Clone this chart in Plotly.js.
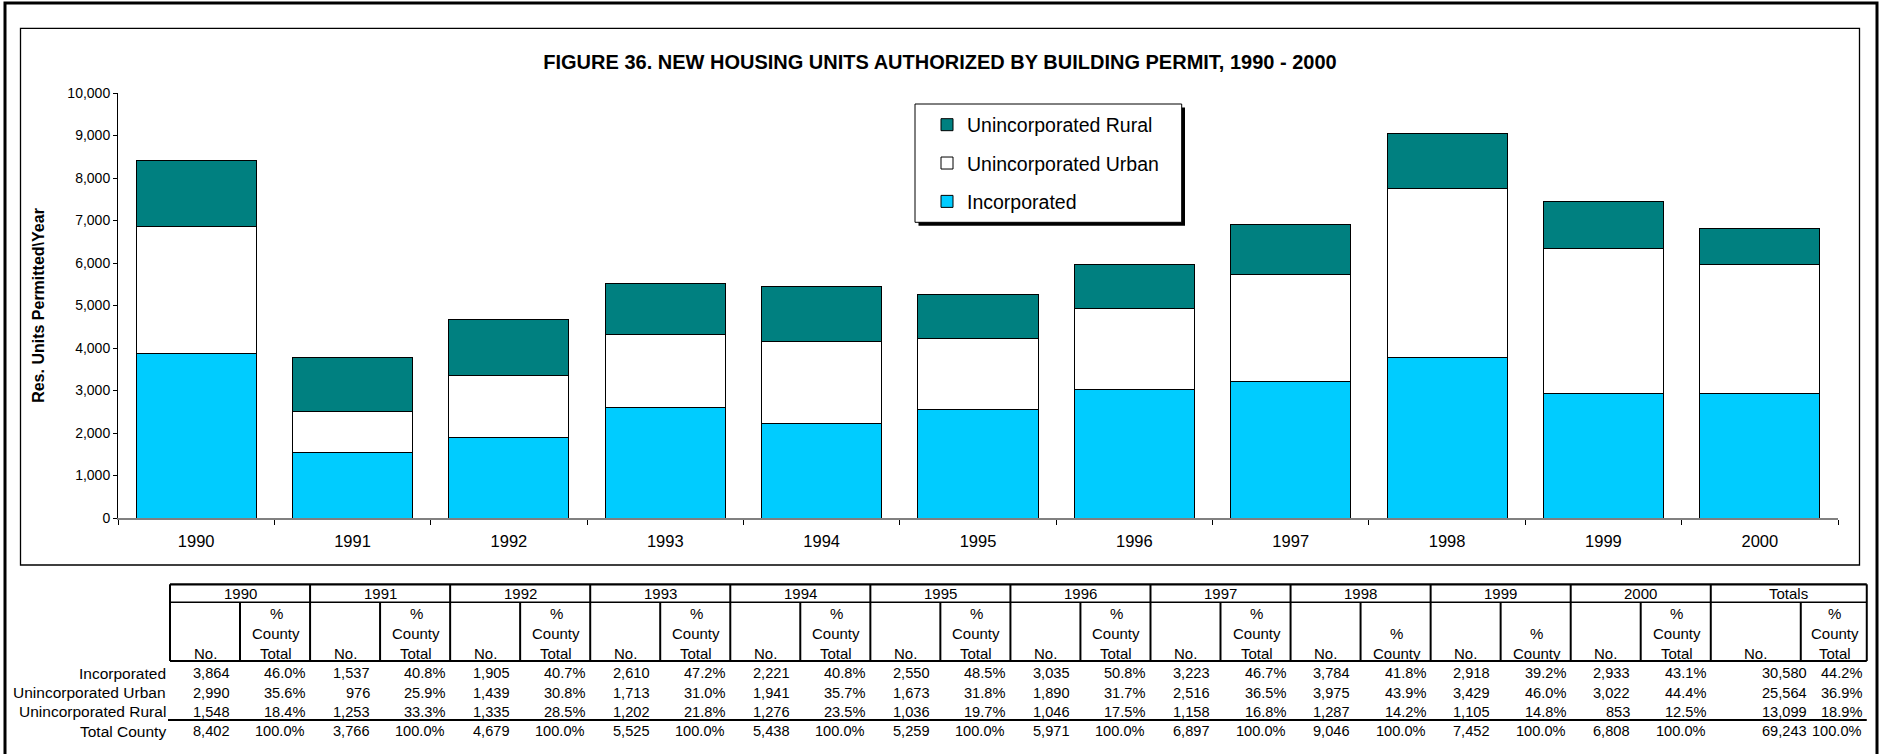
<!DOCTYPE html>
<html>
<head>
<meta charset="utf-8">
<script src="https://cdn.plot.ly/plotly-3.0.1.min.js"></script>
<style>
  html, body { margin: 0; padding: 0; background: #ffffff; }
  #chart { width: 1879px; height: 754px; }
</style>
</head>
<body>
<div id="chart"></div>
<script>
// ---------------- DATA ----------------
const years = ['1990','1991','1992','1993','1994','1995','1996','1997','1998','1999','2000'];
const incorporated = [3864, 1537, 1905, 2610, 2221, 2550, 3035, 3223, 3784, 2918, 2933];
const unincUrban   = [2990,  976, 1439, 1713, 1941, 1673, 1890, 2516, 3975, 3429, 3022];
const unincRural   = [1548, 1253, 1335, 1202, 1276, 1036, 1046, 1158, 1287, 1105,  853];
const totalCounty  = [8402, 3766, 4679, 5525, 5438, 5259, 5971, 6897, 9046, 7452, 6808];
const pctIncorporated = ['46.0%','40.8%','40.7%','47.2%','40.8%','48.5%','50.8%','46.7%','41.8%','39.2%','43.1%'];
const pctUrban        = ['35.6%','25.9%','30.8%','31.0%','35.7%','31.8%','31.7%','36.5%','43.9%','46.0%','44.4%'];
const pctRural        = ['18.4%','33.3%','28.5%','21.8%','23.5%','19.7%','17.5%','16.8%','14.2%','14.8%','12.5%'];
const pctTotal        = ['100.0%','100.0%','100.0%','100.0%','100.0%','100.0%','100.0%','100.0%','100.0%','100.0%','100.0%'];
const totalsNo  = [30580, 25564, 13099, 69243];
const totalsPct = ['44.2%','36.9%','18.9%','100.0%'];
const rowLabels = ['Incorporated','Unincorporated Urban','Unincorporated Rural','Total County'];
const seriesNames = ['Incorporated','Unincorporated Urban','Unincorporated Rural'];
const shortPctHeaderYears = ['1998','1999'];
const chartTitle = 'FIGURE 36. NEW HOUSING UNITS AUTHORIZED BY BUILDING PERMIT, 1990 - 2000';
const yTitle = 'Res. Units Permitted\\Year';

// ---------------- LAYOUT HELPERS ----------------
const W = 1879, H = 754;
const M = {l: 118, r: 41, t: 93, b: 236};
const PW = W - M.l - M.r, PH = H - M.t - M.b;
const px = X => (X - M.l) / PW;
const py = Y => (H - M.b - Y) / PH;
const FONT = 'Liberation Sans, Arial, Helvetica, sans-serif';
const DATA_FS = 14.6, HEAD_FS = 15, LABEL_FS = 15.5;

const shapes = [];
const annotations = [];
function rect(x0, y0, x1, y1, lw, lc, fill) {
  shapes.push({type:'rect', xref:'paper', yref:'paper', x0:px(x0), x1:px(x1), y0:py(y0), y1:py(y1),
    line:{width:lw, color:lc}, fillcolor:fill || 'rgba(0,0,0,0)', layer:'below'});
}
function line(x0, y0, x1, y1, lw) {
  shapes.push({type:'line', xref:'paper', yref:'paper', x0:px(x0), x1:px(x1), y0:py(y0), y1:py(y1),
    line:{width:lw, color:'#000000'}, layer:'above'});
}
function text(t, X, Y, anchor, fs) {
  annotations.push({text:t, xref:'paper', yref:'paper', x:px(X), y:py(Y), xanchor:anchor, yanchor:'middle',
    showarrow:false, font:{family:FONT, size:fs, color:'#000000'}, borderpad:0});
}

// frames
rect(5, 3, 1877, 790, 3, '#000000');
rect(20.5, 28.3, 1859.5, 565, 1.3, '#000000');
// legend box with shadow
rect(918.5, 107.5, 1185, 225.8, 0, '#000000', '#000000');
rect(915, 104, 1181.7, 222.3, 1, '#000000', '#ffffff');

// ---------------- TABLE ----------------
const tL = 170, blockW = 140.07, innerW = 70, totW = 156, totInner = 90;
const tR = tL + blockW * years.length + totW;
const yTop = 584.3, yH1 = 602.3, yH2 = 661, yTot = 720;
const rowY = [673.4, 692.6, 711.9, 731.2];
const hdrY = [593.3, 613.3, 633.3, 653.3];
line(tL, yTop, tR, yTop, 2.2);
line(tL, yH1, tR, yH1, 1.4);
line(tL, yH2, tR, yH2, 2.2);
line(tL - 2, yTot, tR, yTot, 2.2);

const blocks = years.map((y, i) => ({label: y, left: tL + i * blockW, w: blockW, inner: innerW,
  no: [incorporated[i], unincUrban[i], unincRural[i], totalCounty[i]],
  pct: [pctIncorporated[i], pctUrban[i], pctRural[i], pctTotal[i]],
  short: shortPctHeaderYears.includes(y), noRightPad: 9.5}));
blocks.push({label:'Totals', left: tL + years.length * blockW, w: totW, inner: totInner,
  no: totalsNo, pct: totalsPct, short:false, noRightPad: -7});

blocks.forEach(b => {
  const L = b.left, R = b.left + b.w, I = b.left + b.inner;
  line(L, yTop, L, yH2, 2);
  line(I, yH1, I, yH2, 2);
  text(b.label, (L + R) / 2, hdrY[0], 'center', HEAD_FS);
  text('No.', (L + I) / 2, hdrY[3], 'center', HEAD_FS);
  const pc = (I + R) / 2 + 1;
  const hdr = b.short ? ['', '%', 'County'] : ['%', 'County', 'Total'];
  hdr.forEach((h, k) => { if (h) text(h, pc, hdrY[k + 1], 'center', HEAD_FS); });
  b.no.forEach((v, k) => text(v.toLocaleString('en-US'), I - b.noRightPad, rowY[k], 'right', DATA_FS));
  b.pct.forEach((v, k) => text(v, R - 4, rowY[k], 'right', DATA_FS));
});
line(tR, yTop, tR, yH2, 2);
rowLabels.forEach((lab, k) => text(lab, 167, rowY[k], 'right', LABEL_FS));

// ---------------- TRACES ----------------
const colors = ['#00CCFF', '#FFFFFF', '#008080'];
const values = [incorporated, unincUrban, unincRural];
const ranks = [3, 2, 1];
const traces = values.map((v, i) => ({
  type: 'bar', x: years, y: v, name: seriesNames[i], legendgroup: 'g' + i, legendrank: ranks[i],
  marker: {color: colors[i], line: {color: '#000000', width: 1}},
  hoverinfo: 'x+y+name'
}));

const legendSymbolCenter = 947, legendTopPx = 105.5;

const layout = {
  width: W, height: H,
  margin: M,
  paper_bgcolor: '#ffffff', plot_bgcolor: '#ffffff',
  font: {family: FONT, color: '#000000'},
  barmode: 'stack', bargap: 0.232,
  title: {text: chartTitle, font: {family: FONT, size: 20, weight: 'bold', color: '#000000'},
    xref: 'container', yref: 'container', x: 940 / W, xanchor: 'center', y: 1 - 61.7 / H, yanchor: 'middle'},
  xaxis: {type: 'category', showline: true, linecolor: '#808080', linewidth: 1.5,
    ticks: 'outside', ticklen: 5, tickwidth: 1, tickcolor: '#000000', tickson: 'boundaries',
    tickfont: {family: FONT, size: 16.5, color: '#000000'}, ticklabelstandoff: 8,
    showgrid: false, zeroline: false, fixedrange: true},
  xaxis2: {overlaying: 'x', anchor: 'y', range: [0, 11], tickvals: [1,2,3,4,5,6,7,8,9,10,11],
    ticks: 'inside', ticklen: 5, tickwidth: 1, tickcolor: '#000000', showticklabels: false,
    showline: false, showgrid: false, zeroline: false, fixedrange: true},
  yaxis: {range: [0, 10000], dtick: 1000, tickformat: ',d', showline: true, linecolor: '#000000', linewidth: 1,
    ticks: 'outside', ticklen: 4, tickwidth: 1, tickcolor: '#000000',
    tickfont: {family: FONT, size: 14, color: '#000000'},
    title: {text: yTitle, font: {family: FONT, size: 16, weight: 'bold', color: '#000000'}, standoff: 18},
    showgrid: false, zeroline: false, fixedrange: true},
  yaxis2: {overlaying: 'y', anchor: 'x', range: [0, 10000], dtick: 1000, ticks: 'inside', ticklen: 4,
    tickwidth: 1, tickcolor: '#000000', showticklabels: false, showline: false, showgrid: false,
    zeroline: false, fixedrange: true},
  showlegend: true,
  legend: {x: px(legendSymbolCenter - 20), y: py(legendTopPx), xanchor: 'left', yanchor: 'top',
    bgcolor: 'rgba(0,0,0,0)', borderwidth: 0, traceorder: 'grouped', tracegroupgap: 10,
    font: {family: FONT, size: 19.5, color: '#000000'}},
  shapes: shapes,
  annotations: annotations
};

Plotly.newPlot('chart', traces, layout, {displayModeBar: false, staticPlot: true});
</script>
</body>
</html>
